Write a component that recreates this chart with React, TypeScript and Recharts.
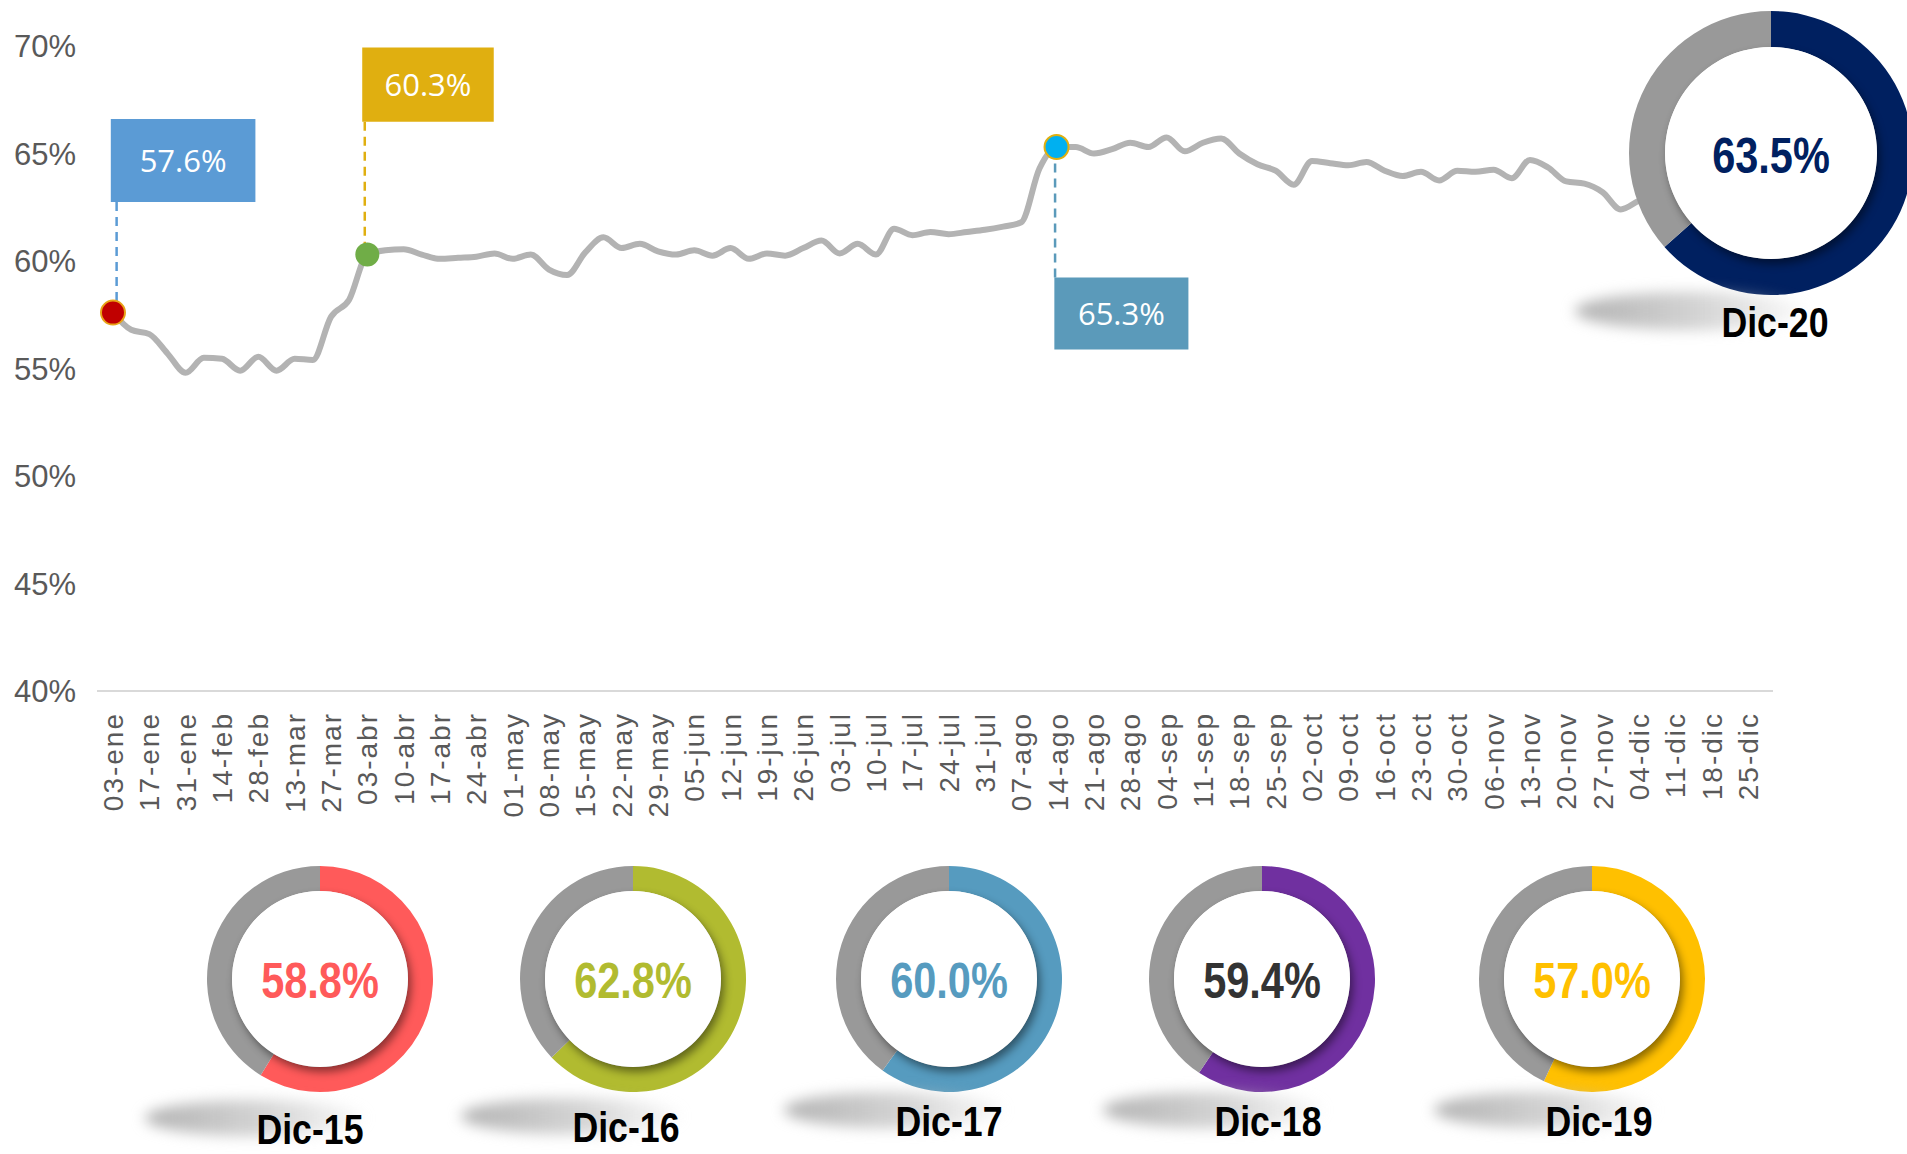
import React from "react";
import {
  LineChart,
  Line,
  XAxis,
  YAxis,
  ReferenceDot,
  ReferenceLine,
  ReferenceArea,
  PieChart,
  Pie,
  Cell,
} from "recharts";

const FONT = "'Liberation Sans', Arial, sans-serif";

const weekLabels = [
  "03-ene", "17-ene", "31-ene", "14-feb", "28-feb", "13-mar", "27-mar",
  "03-abr", "10-abr", "17-abr", "24-abr", "01-may", "08-may", "15-may",
  "22-may", "29-may", "05-jun", "12-jun", "19-jun", "26-jun", "03-jul",
  "10-jul", "17-jul", "24-jul", "31-jul", "07-ago", "14-ago", "21-ago",
  "28-ago", "04-sep", "11-sep", "18-sep", "25-sep", "02-oct", "09-oct",
  "16-oct", "23-oct", "30-oct", "06-nov", "13-nov", "20-nov", "27-nov",
  "04-dic", "11-dic", "18-dic", "25-dic",
];

// two readings per label step: on the label, then halfway to the next one
const rate = [
  57.6, 56.8, 56.6, 55.7, 54.8, 55.5, 55.45, 54.9, 55.55, 54.9,
  55.45, 55.4, 57.4, 58.2, 60.3, 60.5, 60.55, 60.3, 60.1, 60.15,
  60.2, 60.35, 60.1, 60.3, 59.6, 59.35, 60.4, 61.1, 60.6, 60.8,
  60.45, 60.3, 60.5, 60.25, 60.6, 60.1, 60.35, 60.25, 60.6, 60.95,
  60.35, 60.8, 60.3, 61.5, 61.2, 61.35, 61.25, 61.35, 61.45, 61.6,
  61.8, 64.3, 65.3, 65.3, 65.0, 65.2, 65.5, 65.3, 65.75, 65.1,
  65.5, 65.7, 65.0, 64.5, 64.2, 63.55, 64.65, 64.55, 64.45, 64.6,
  64.2, 63.95, 64.15, 63.75, 64.2, 64.15, 64.25, 63.85, 64.7, 64.35,
  63.7, 63.6, 63.2, 62.4, 62.8, 63.1,
];

const yTicks = [40, 45, 50, 55, 60, 65, 70];

const donutYears = ["Dic-15", "Dic-16", "Dic-17", "Dic-18", "Dic-19"];
const donutShares = [58.8, 62.8, 60.0, 59.4, 57.0];
const donutColors = ["#FF5A5A", "#B1BB30", "#569BBF", "#7030A0", "#FFC000"];
const donutTextColors = ["#FF5A5A", "#B1BB30", "#569BBF", "#333333", "#FFC000"];

const latestYear = "Dic-20";
const latestShare = 63.5;
const latestColor = "#002060";

const lineData = rate.map((v, i) => ({ x: i / 2, v }));

// callouts on the line: marker, dashed leader, and label box
const callouts = [
  {
    text: "57.6%", x: 0, y: 57.6, dot: "#C00000", dotStroke: "#E8A317",
    box: "#5B9BD5", bx1: -0.06, bx2: 3.92, by1: 62.74, by2: 66.6, lx: 0.1,
  },
  {
    text: "60.3%", x: 7, y: 60.3, dot: "#70AD47", dotStroke: "none",
    box: "#E0AF10", bx1: 6.86, bx2: 10.48, by1: 66.48, by2: 69.93, lx: 6.93,
  },
  {
    text: "65.3%", x: 25.97, y: 65.3, dot: "#00B0F0", dotStroke: "#E0AF10",
    box: "#5B9ABA", bx1: 25.91, bx2: 29.6, by1: 55.88, by2: 59.23, lx: 25.93,
  },
];

function WeekTick({ x, y, payload }: any) {
  return (
    <text
      transform={`translate(${x + 10},${y + 21}) rotate(-90)`}
      textAnchor="end"
      fontSize={28}
      letterSpacing={2}
      fill="#595959"
      fontFamily={FONT}
    >
      {weekLabels[payload.value]}
    </text>
  );
}

function NarrowText({ x, y, size, color, children }: any) {
  return (
    <div
      style={{
        position: "absolute",
        left: x,
        top: y,
        transform: "translate(-50%, -50%) scaleX(0.83)",
        fontFamily: FONT,
        fontWeight: "bold",
        fontSize: size,
        lineHeight: 1,
        color,
        whiteSpace: "nowrap",
      }}
    >
      {children}
    </div>
  );
}

function Shadow({ x, y, w, h }: any) {
  return (
    <div
      style={{
        position: "absolute",
        left: x - w / 2,
        top: y - h / 2,
        width: w,
        height: h,
        borderRadius: "50%",
        background:
          "linear-gradient(90deg, rgba(160,160,160,0.8), rgba(190,190,190,0.65) 55%, rgba(215,215,215,0.1))",
        filter: "blur(7px)",
      }}
    />
  );
}

function Donut({ cx, cy, outer, inner, share, color }: any) {
  const size = outer * 2 + 20;
  const ring = [
    { name: "share", v: share },
    { name: "rest", v: 100 - share },
  ];
  return (
    <div style={{ position: "absolute", left: cx - size / 2, top: cy - size / 2 }}>
      <PieChart width={size} height={size} margin={{ top: 0, right: 0, bottom: 0, left: 0 }}>
        <Pie
          data={ring}
          dataKey="v"
          startAngle={90}
          endAngle={-270}
          innerRadius={inner}
          outerRadius={outer}
          stroke="none"
          isAnimationActive={false}
        >
          <Cell fill={color} />
          <Cell fill="#999999" />
        </Pie>
        <Pie
          data={[{ name: "disc", v: 1 }]}
          dataKey="v"
          innerRadius={0}
          outerRadius={inner}
          stroke="none"
          isAnimationActive={false}
        >
          <Cell
            fill="#FFFFFF"
            style={{ filter: "drop-shadow(3px 5px 4px rgba(0,0,0,0.45))" }}
          />
        </Pie>
      </PieChart>
    </div>
  );
}

const bottomCx = [320, 633, 949, 1262, 1592];
const labelCx = [310, 626, 949, 1268, 1599];
const labelCy = [1129, 1127, 1121, 1121, 1121];

export default function App() {
  return (
    <div
      style={{
        position: "absolute",
        left: 0,
        top: 0,
        width: 1907,
        height: 1154,
        background: "#FFFFFF",
        overflow: "hidden",
      }}
    >
      <div style={{ position: "absolute", left: 0, top: 0 }}>
        <LineChart
          width={1907}
          height={830}
          data={lineData}
          margin={{ top: 46, right: 134, bottom: 9, left: 0 }}
          style={{ fontFamily: FONT }}
        >
          <XAxis
            type="number"
            dataKey="x"
            domain={[-0.44, 45.69]}
            ticks={weekLabels.map((_, i) => i)}
            interval={0}
            allowDataOverflow
            tick={<WeekTick />}
            tickLine={false}
            tickSize={0}
            tickMargin={0}
            height={130}
            axisLine={{ stroke: "#D9D9D9", strokeWidth: 2 }}
          />
          <YAxis
            type="number"
            domain={[40, 70]}
            ticks={yTicks}
            tickFormatter={(v) => `${v}%`}
            axisLine={false}
            tickLine={false}
            tickSize={0}
            tickMargin={21}
            width={97}
            tick={{ fill: "#595959", fontSize: 31, fontFamily: FONT }}
          />
          <Line
            type="monotone"
            dataKey="v"
            stroke="#B3B3B3"
            strokeWidth={6}
            dot={false}
            isAnimationActive={false}
          />
          {callouts.map((c) => (
            <ReferenceLine
              key={`l-${c.text}`}
              segment={[
                { x: c.lx, y: c.y > c.by2 ? c.by2 : c.by1 },
                { x: c.lx, y: c.y },
              ]}
              stroke={c.box}
              strokeWidth={2.5}
              strokeDasharray="9 6"
              ifOverflow="visible"
            />
          ))}
          {callouts.map((c) => (
            <ReferenceDot
              key={`d-${c.text}`}
              x={c.x}
              y={c.y}
              r={12}
              fill={c.dot}
              stroke={c.dotStroke}
              strokeWidth={2}
              ifOverflow="visible"
            />
          ))}
          {callouts.map((c) => (
            <ReferenceArea
              key={`b-${c.text}`}
              x1={c.bx1}
              x2={c.bx2}
              y1={c.by1}
              y2={c.by2}
              fill={c.box}
              fillOpacity={1}
              stroke="none"
              ifOverflow="visible"
              label={{
                value: c.text,
                position: "center",
                fill: "#FFFFFF",
                fontSize: 31,
                fontFamily: "'Open Sans', sans-serif",
              }}
            />
          ))}
        </LineChart>
      </div>

      {donutYears.map((year, i) => (
        <React.Fragment key={year}>
          <Donut
            cx={bottomCx[i]}
            cy={979}
            outer={113}
            inner={88}
            share={donutShares[i]}
            color={donutColors[i]}
          />
          <NarrowText x={bottomCx[i]} y={981} size={50} color={donutTextColors[i]}>
            {donutShares[i].toFixed(1)}%
          </NarrowText>
          <Shadow x={labelCx[i] - 55} y={labelCy[i] - 11} w={220} h={36} />
          <NarrowText x={labelCx[i]} y={labelCy[i]} size={43} color="#000000">
            {year}
          </NarrowText>
        </React.Fragment>
      ))}

      <Donut cx={1771} cy={153} outer={142} inner={106} share={latestShare} color={latestColor} />
      <NarrowText x={1771} y={156} size={50} color={latestColor}>
        {latestShare.toFixed(1)}%
      </NarrowText>
      <Shadow x={1690} y={311} w={230} h={38} />
      <NarrowText x={1775} y={322} size={43} color="#000000">
        {latestYear}
      </NarrowText>
    </div>
  );
}
